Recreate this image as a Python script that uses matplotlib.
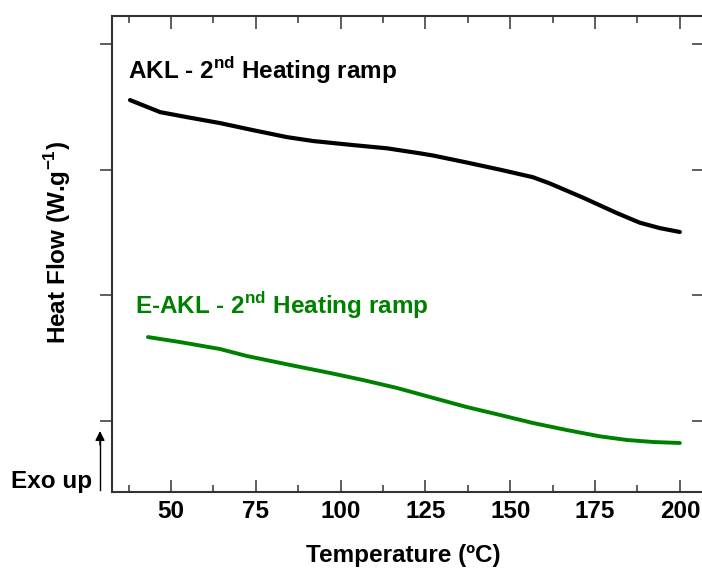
import numpy as np
import matplotlib
matplotlib.use("Agg")
import matplotlib.pyplot as plt
from matplotlib.ticker import MultipleLocator

plt.rcParams['font.family'] = ['Liberation Sans', 'DejaVu Sans']
plt.rcParams['font.weight'] = 'bold'
plt.rcParams['mathtext.fontset'] = 'custom'
plt.rcParams['mathtext.rm'] = 'Liberation Sans:bold'
plt.rcParams['mathtext.bf'] = 'Liberation Sans:bold'

# AKL, 2nd heating ramp (arbitrary heat flow units)
akl_temp = [37.9, 46.8, 54.7, 64.4, 74.1, 84.2, 91.9, 103.6, 113.7, 123.4,
            127.2, 137.2, 147.0, 156.7, 161.7, 171.4, 181.4, 188.2, 194.1, 200.0]
akl_flow = [2.554, 2.458, 2.418, 2.371, 2.315, 2.259, 2.228, 2.196, 2.170, 2.130,
            2.113, 2.057, 2.000, 1.940, 1.890, 1.778, 1.655, 1.578, 1.535, 1.504]

# E-AKL, 2nd heating ramp
eakl_temp = [43.2, 52.7, 64.4, 72.4, 85.1, 96.9, 106.6, 116.6, 126.3, 137.2,
             147.0, 156.7, 166.7, 176.4, 184.4, 192.1, 200.0]
eakl_flow = [0.668, 0.628, 0.573, 0.517, 0.446, 0.382, 0.326, 0.263, 0.191, 0.111,
             0.048, -0.016, -0.072, -0.122, -0.151, -0.167, -0.175]

x_ticks = [50, 75, 100, 125, 150, 175, 200]

W, H = 702, 570
FS = 17.5
fig = plt.figure(figsize=(W / 100, H / 100), dpi=100)
ax = fig.add_axes([112 / W, 1 - 492 / H, (706 - 112) / W, (492 - 16) / H])

ax.plot(akl_temp, akl_flow, color='black', lw=3.0, solid_capstyle='round',
        solid_joinstyle='round')
ax.plot(eakl_temp, eakl_flow, color='#008000', lw=2.8, solid_capstyle='round',
        solid_joinstyle='round')

ax.set_xlim(32.6, 207.7)
ax.set_ylim(-0.565, 3.223)

ax.set_xticks(x_ticks)
ax.xaxis.set_minor_locator(MultipleLocator(12.5))
ax.tick_params(axis='x', which='major', direction='in', length=9, width=1.1,
               top=True, labelsize=FS, pad=6, color='#333333')
ax.tick_params(axis='x', which='minor', direction='in', length=5, width=1.1,
               top=True, color='#333333')
for lab in ax.get_xticklabels():
    lab.set_fontweight('bold')

ax.set_yticks([0, 1, 2, 3])
ax.tick_params(axis='y', which='major', direction='out', length=9, width=1.1,
               labelleft=False, right=False, color='#333333')
sec = ax.secondary_yaxis('right')
sec.set_yticks([0, 1, 2, 3])
sec.tick_params(direction='in', length=10, width=1.1, labelright=False, color='#333333')
sec.spines['right'].set_color('#333333')

for s in ax.spines.values():
    s.set_linewidth(1.5)
    s.set_color('#333333')

fig.text(128 / W, 1 - 79 / H, r'AKL - 2$^{\mathbf{nd}}$ Heating ramp', fontsize=FS,
         fontweight='bold', color='black', va='baseline', ha='left')
fig.text(135 / W, 1 - 314 / H, r'E-AKL - 2$^{\mathbf{nd}}$ Heating ramp', fontsize=FS,
         fontweight='bold', color='#008000', va='baseline', ha='left')

fig.text(11 / W, 1 - 488 / H, 'Exo up', fontsize=FS, fontweight='bold',
         va='baseline', ha='left')
fig.add_artist(plt.Line2D([100 / W, 100 / W], [1 - 490 / H, 1 - 440 / H],
                          color='black', lw=1.0, transform=fig.transFigure))
ax.annotate('', xy=(100 / W, 1 - 431 / H), xytext=(100 / W, 1 - 445 / H),
            xycoords='figure fraction', textcoords='figure fraction',
            arrowprops=dict(arrowstyle='-|>', color='black', lw=1.0,
                            mutation_scale=14, shrinkA=0, shrinkB=0))

fig.text(403 / W, 1 - 562 / H, 'Temperature (ºC)', fontsize=FS, fontweight='bold',
         va='baseline', ha='center')
fig.text(58 / W, 1 - 243 / H, r'Heat Flow (W.g$^{\mathbf{-1}}$)', fontsize=FS,
         fontweight='bold', va='center', ha='center', rotation=90)

fig.savefig('out.png', dpi=100)
